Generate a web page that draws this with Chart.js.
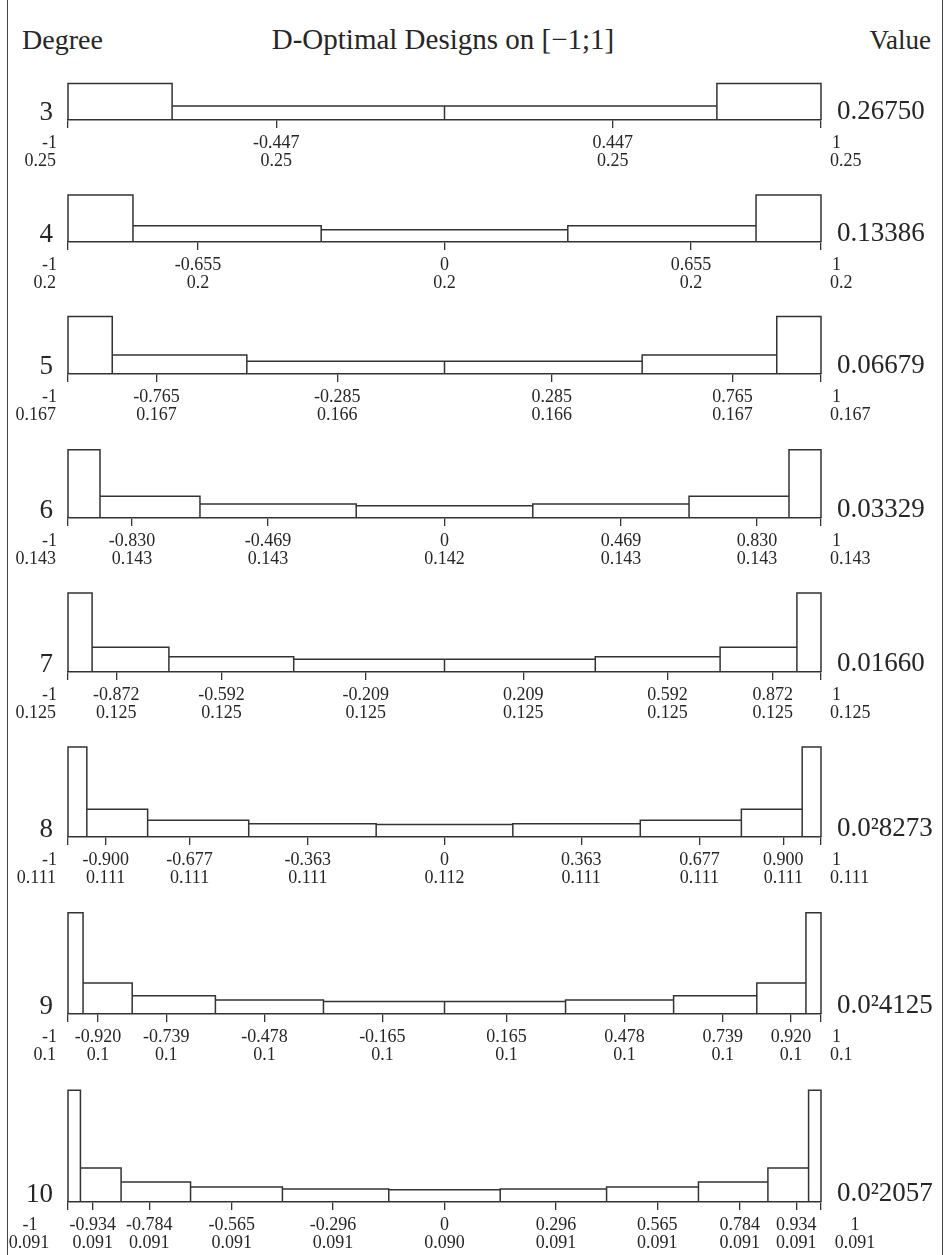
<!DOCTYPE html>
<html>
<head>
<meta charset="utf-8">
<title>D-Optimal Designs on [−1;1]</title>
<script src="https://cdn.jsdelivr.net/npm/chart.js@4.4.1/dist/chart.umd.min.js"></script>
<style>
    html, body { margin: 0; padding: 0; background: #fff; }
    #page { position: relative; width: 946px; height: 1255px; overflow: hidden; background: #fff; }
    #frame {
        position: absolute; left: 7px; top: 0; width: 936px; height: 1255px; box-sizing: border-box;
        border-left: 1.5px solid #444; border-right: 1.5px solid #444;
    }
    .head {
        position: absolute; top: 27px; font-family: "Liberation Serif", serif; font-size: 27px;
        line-height: 1; color: #262626; white-space: nowrap;
    }
    canvas { position: absolute; left: 0; }
</style>
</head>
<body>
<div id="page">
    <div id="frame"></div>
    <div class="head" style="left: 22px; font-size: 28px; top: 26px;">Degree</div>
    <div class="head" style="left: 443px; transform: translateX(-50%); font-size: 29px; top: 25px;">D-Optimal Designs on [−1;1]</div>
    <div class="head" style="right: 15px;">Value</div>
</div>

<script>
// Data
const degrees = [3, 4, 5, 6, 7, 8, 9, 10];

const supportPoints = [
    [-1, -0.447, 0.447, 1],
    [-1, -0.655, 0, 0.655, 1],
    [-1, -0.765, -0.285, 0.285, 0.765, 1],
    [-1, -0.830, -0.469, 0, 0.469, 0.830, 1],
    [-1, -0.872, -0.592, -0.209, 0.209, 0.592, 0.872, 1],
    [-1, -0.900, -0.677, -0.363, 0, 0.363, 0.677, 0.900, 1],
    [-1, -0.920, -0.739, -0.478, -0.165, 0.165, 0.478, 0.739, 0.920, 1],
    [-1, -0.934, -0.784, -0.565, -0.296, 0, 0.296, 0.565, 0.784, 0.934, 1]
];

const weights = [
    [0.25, 0.25, 0.25, 0.25],
    [0.2, 0.2, 0.2, 0.2, 0.2],
    [0.167, 0.167, 0.166, 0.166, 0.167, 0.167],
    [0.143, 0.143, 0.143, 0.142, 0.143, 0.143, 0.143],
    [0.125, 0.125, 0.125, 0.125, 0.125, 0.125, 0.125, 0.125],
    [0.111, 0.111, 0.111, 0.111, 0.112, 0.111, 0.111, 0.111, 0.111],
    [0.1, 0.1, 0.1, 0.1, 0.1, 0.1, 0.1, 0.1, 0.1, 0.1],
    [0.091, 0.091, 0.091, 0.091, 0.091, 0.090, 0.091, 0.091, 0.091, 0.091, 0.091]
];

// digits shown for the weights row
const weightDigits = [2, 1, 3, 3, 3, 3, 1, 3];

const designValues = ['0.26750', '0.13386', '0.06679', '0.03329', '0.01660', '0.0²8273', '0.0²4125', '0.0²2057'];

// Layout
const baselines = [120, 242, 374, 518, 672, 837, 1014, 1202];
const endLabelMode = ['edge', 'edge', 'edge', 'edge', 'edge', 'edge', 'edge', 'center'];
const AXIS_LEFT = 68;
const AXIS_RIGHT = 821;
const PAGE_W = 946;
const PX_PER_UNIT = 40.5;
const TOP_PAD = 4;
const BOTTOM_H = 58;
const TICK_LEN = 8;
const TICK_PAD = 6;
const LABEL_SIZE = 18;
const LABEL_LH = 18;
const LINE_COLOR = '#333';
const TEXT_COLOR = '#262626';
const SERIF = '"Liberation Serif", serif';

Chart.defaults.font.family = SERIF;
Chart.defaults.color = TEXT_COLOR;

function fmtPoint(v) {
    return Number.isInteger(v) ? String(v) : v.toFixed(3);
}

// Histogram outline: each support point gets the cell between the midpoints,
// with height = weight / cell width
function histogramOutline(pts, ws) {
    const edges = [pts[0]];
    for (let i = 1; i < pts.length; i++) edges.push((pts[i - 1] + pts[i]) / 2);
    edges.push(pts[pts.length - 1]);
    const out = [];
    for (let i = 0; i < pts.length; i++) {
        const h = ws[i] / (edges[i + 1] - edges[i]);
        out.push({ x: edges[i], y: 0 }, { x: edges[i], y: h }, { x: edges[i + 1], y: h }, { x: edges[i + 1], y: 0 });
    }
    return out;
}

// Degree number, design value and the two end labels
const panelText = {
    id: 'panelText',
    afterDraw(chart, args, opts) {
        const ctx = chart.ctx;
        const xs = chart.scales.x;
        const axisY = xs.top;
        const pts = opts.points;
        const ws = opts.weights;
        const last = pts.length - 1;
        const y1 = axisY + TICK_LEN + TICK_PAD + LABEL_LH / 2;
        const xl = xs.getPixelForValue(pts[0]);
        const xr = xs.getPixelForValue(pts[last]);

        ctx.save();
        ctx.fillStyle = TEXT_COLOR;
        ctx.font = LABEL_SIZE + 'px ' + SERIF;
        ctx.textBaseline = 'middle';
        if (opts.mode === 'center') {
            ctx.textAlign = 'center';
            ctx.fillText(fmtPoint(pts[0]), xl - 38, y1);
            ctx.fillText(ws[0].toFixed(opts.digits), xl - 39, y1 + LABEL_LH);
            ctx.fillText(fmtPoint(pts[last]), xr + 34, y1);
            ctx.fillText(ws[last].toFixed(opts.digits), xr + 34, y1 + LABEL_LH);
        } else {
            ctx.textAlign = 'right';
            ctx.fillText(fmtPoint(pts[0]), xl - 11, y1);
            ctx.fillText(ws[0].toFixed(opts.digits), xl - 12, y1 + LABEL_LH);
            ctx.textAlign = 'left';
            ctx.fillText(fmtPoint(pts[last]), xr + 11, y1);
            ctx.fillText(ws[last].toFixed(opts.digits), xr + 9, y1 + LABEL_LH);
        }

        ctx.font = '27px ' + SERIF;
        ctx.textBaseline = 'alphabetic';
        ctx.textAlign = 'right';
        ctx.fillText(String(opts.degree), xs.left - 15, axisY);
        ctx.textAlign = 'left';
        ctx.fillText(opts.value, xs.right + 16, axisY - 1);
        ctx.restore();
    }
};

function buildPanel(i) {
    const pts = supportPoints[i];
    const ws = weights[i];
    const outline = histogramOutline(pts, ws);
    const maxH = Math.max(...outline.map(p => p.y));
    const areaH = Math.ceil(maxH * PX_PER_UNIT) + 3;
    const canvasH = TOP_PAD + areaH + BOTTOM_H;

    const canvas = document.createElement('canvas');
    canvas.width = PAGE_W;
    canvas.height = canvasH;
    canvas.style.width = PAGE_W + 'px';
    canvas.style.height = canvasH + 'px';
    canvas.style.top = (baselines[i] - areaH - TOP_PAD) + 'px';
    document.getElementById('page').appendChild(canvas);

    new Chart(canvas.getContext('2d'), {
        type: 'scatter',
        data: {
            datasets: [{
                data: outline,
                showLine: true,
                borderColor: LINE_COLOR,
                borderWidth: 1.5,
                pointRadius: 0,
                pointHoverRadius: 0,
                fill: false,
                tension: 0,
                clip: false
            }]
        },
        options: {
            responsive: false,
            animation: false,
            devicePixelRatio: 1,
            layout: { padding: { left: AXIS_LEFT, right: PAGE_W - AXIS_RIGHT, top: TOP_PAD, bottom: 0 } },
            scales: {
                x: {
                    type: 'linear',
                    min: -1,
                    max: 1,
                    afterBuildTicks: s => { s.ticks = pts.map(v => ({ value: v })); },
                    afterFit: s => { s.height = BOTTOM_H; },
                    grid: { display: true, drawOnChartArea: false, drawTicks: true, tickLength: TICK_LEN, color: LINE_COLOR, lineWidth: 1.3 },
                    border: { display: true, color: LINE_COLOR, width: 1.5 },
                    ticks: {
                        autoSkip: false,
                        maxRotation: 0,
                        minRotation: 0,
                        padding: TICK_PAD,
                        color: TEXT_COLOR,
                        font: { family: SERIF, size: LABEL_SIZE, lineHeight: LABEL_LH / LABEL_SIZE },
                        callback: (v, idx) => (idx === 0 || idx === pts.length - 1)
                            ? ''
                            : [fmtPoint(pts[idx]), ws[idx].toFixed(weightDigits[i])]
                    }
                },
                y: { display: false, min: 0, max: areaH / PX_PER_UNIT }
            },
            plugins: {
                legend: { display: false },
                tooltip: { enabled: false },
                panelText: {
                    points: pts,
                    weights: ws,
                    digits: weightDigits[i],
                    degree: degrees[i],
                    value: designValues[i],
                    mode: endLabelMode[i]
                }
            }
        },
        plugins: [panelText]
    });
}

degrees.forEach((d, i) => buildPanel(i));
</script>
</body>
</html>
